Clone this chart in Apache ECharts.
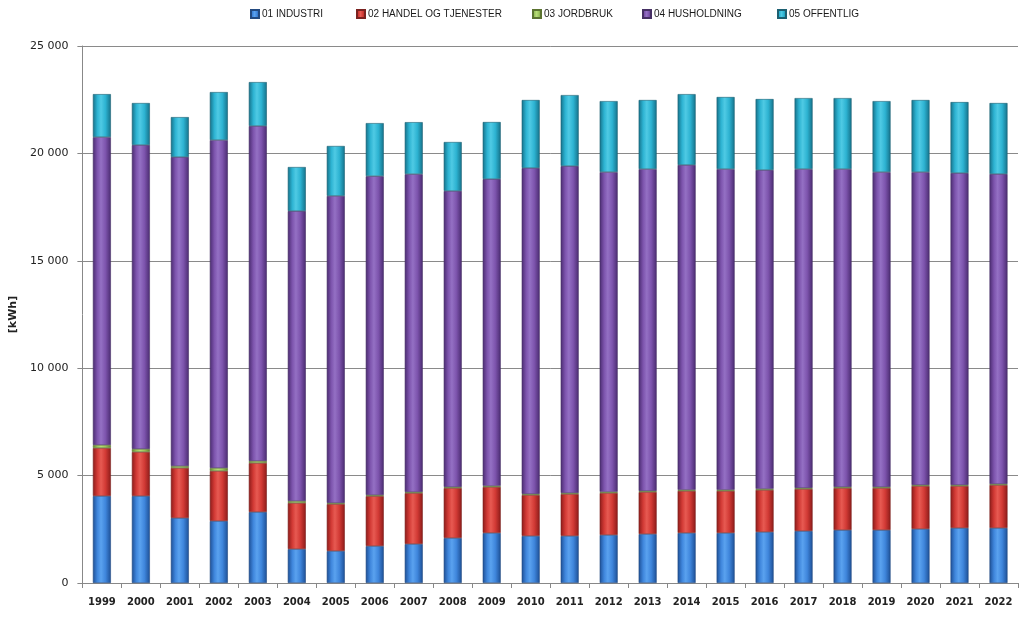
<!DOCTYPE html>
<html>
<head>
<meta charset="utf-8">
<script src="https://cdn.jsdelivr.net/npm/echarts@6/dist/echarts.min.js"></script>
<style>html,body{margin:0;padding:0;background:#fff;}#c{width:1024px;height:619px;}</style>
</head>
<body>
<div id="c"></div>
<script>
const years = ['1999','2000','2001','2002','2003','2004','2005','2006','2007','2008','2009','2010','2011','2012','2013','2014','2015','2016','2017','2018','2019','2020','2021','2022'];
const industri    = [4050,4050,3025,2885,3305,1580,1490,1720,1815,2095,2330,2190,2190,2235,2280,2330,2330,2375,2420,2465,2465,2515,2560,2560];
const handel      = [2235,2050,2330,2330,2280,2145,2185,2325,2370,2325,2140,1905,1950,1955,1955,1955,1955,1955,1955,1955,1955,2000,1955,2000];
const jordbruk    = [140,140,90,140,95,90,50,50,50,50,50,50,50,50,50,50,50,50,50,50,50,50,50,50];
const husholdning = [14335,14150,14385,15265,15595,13500,14295,14845,14800,13780,14285,15175,15220,14890,14985,15125,14935,14845,14845,14800,14660,14565,14520,14430];
const offentlig   = [2000,1955,1860,2235,2045,2050,2325,2470,2420,2280,2655,3165,3305,3305,3215,3300,3355,3305,3305,3305,3305,3355,3305,3305];
const seriesNames = ['01 INDUSTRI','02 HANDEL OG TJENESTER','03 JORDBRUK','04 HUSHOLDNING','05 OFFENTLIG'];
const yTicks = [0,5000,10000,15000,20000,25000];

const palette = [
  {dark:'#1d4f95', mid:'#3f86dc', light:'#5aa2ef', border:'#234a80'},
  {dark:'#8c1b19', mid:'#d23a35', light:'#e75a52', border:'#7a2220'},
  {dark:'#5f7f2a', mid:'#9bc45a', light:'#b7dc78', border:'#5b7330'},
  {dark:'#4a2b70', mid:'#7d54ad', light:'#9470c4', border:'#463064'},
  {dark:'#157189', mid:'#2db3d2', light:'#4fcae4', border:'#1d6072'}
];
function grad(p){
  return new echarts.graphic.LinearGradient(0,0,1,0,[
    {offset:0, color:p.dark},
    {offset:0.25, color:p.mid},
    {offset:0.45, color:p.light},
    {offset:0.7, color:p.mid},
    {offset:1, color:p.dark}
  ]);
}
const dataArr = [industri, handel, jordbruk, husholdning, offentlig];
const legendX = [245, 351, 527, 637, 772];

const chart = echarts.init(document.getElementById('c'), null, {renderer:'canvas'});
chart.setOption({
  animation:false,
  backgroundColor:'#fff',
  legend: seriesNames.map((n,i)=>({
    data:[n], left:legendX[i], top:4, icon:'rect', itemWidth:8, itemHeight:8, itemGap:4,
    textStyle:{fontFamily:'Liberation Sans', fontSize:10, color:'#1a1a1a', padding:[0,0,0,-2]},
    selectedMode:false
  })),
  grid:{left:82, right:6, top:46, bottom:36, containLabel:false},
  xAxis:{
    type:'category', data:years,
    axisLine:{lineStyle:{color:'#888', width:1}},
    axisTick:{show:true, length:5, alignWithLabel:false, lineStyle:{color:'#888'}},
    axisLabel:{interval:0, fontFamily:'DejaVu Sans', fontSize:10, fontWeight:'bold', color:'#222', margin:14}
  },
  yAxis:{
    type:'value', min:0, max:25000, interval:5000,
    name:'[kWh]', nameLocation:'middle', nameGap:57, nameRotate:90,
    nameTextStyle:{fontFamily:'DejaVu Sans', fontSize:11, fontWeight:'bold', color:'#222'},
    axisLine:{show:true, lineStyle:{color:'#888'}},
    axisTick:{show:true, length:5, lineStyle:{color:'#888'}},
    splitLine:{lineStyle:{color:'#8a8a8a', width:1}},
    axisLabel:{fontFamily:'DejaVu Sans', fontSize:11, color:'#222', margin:14,
      formatter:v=>String(v).replace(/\B(?=(\d{3})+(?!\d))/g,' ')}
  },
  series: seriesNames.map((n,i)=>({
    name:n, type:'bar', stack:'total', data:dataArr[i], barWidth:18,
    itemStyle:{color:grad(palette[i]), borderColor:palette[i].border, borderWidth:0.6}
  }))
});
</script>
</body>
</html>
